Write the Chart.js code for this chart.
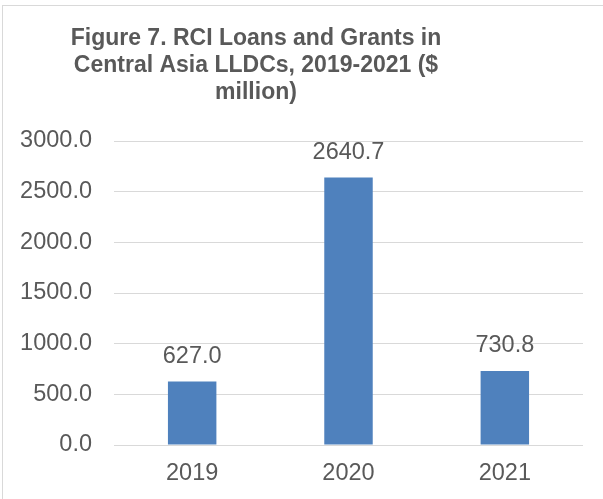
<!DOCTYPE html>
<html>
<head>
<meta charset="utf-8">
<script src="https://cdn.jsdelivr.net/npm/chart.js@4"></script>
<style>
  html, body { margin: 0; padding: 0; background: #fff; }
  #wrap { width: 603px; height: 499px; position: relative; }
</style>
</head>
<body>
<div id="wrap"><canvas id="myChart" width="603" height="499"></canvas></div>
<script>
var years = ['2019', '2020', '2021'];
var totals = [627.0, 2640.7, 730.8];
var yTicks = [0, 500, 1000, 1500, 2000, 2500, 3000];
var titleLines = ['Figure 7. RCI Loans and Grants in', 'Central Asia LLDCs, 2019-2021 ($', 'million)'];

var textColor = '#595959';
var font = 'Arial, "Liberation Sans", sans-serif';

// frame, title and value labels drawn straight onto the canvas
var extras = {
    id: 'extras',
    beforeDraw: function(chart) {
        var c = chart.ctx;
        c.save();
        c.strokeStyle = '#d9d9d9';
        c.lineWidth = 1;
        c.strokeRect(2.5, 5.5, 700, 600);
        c.restore();
    },
    afterDatasetsDraw: function(chart) {
        var c = chart.ctx;
        c.save();
        c.fillStyle = textColor;
        c.textAlign = 'center';
        c.textBaseline = 'middle';
        c.font = 'bold 23px ' + font;
        titleLines.forEach(function(line, i) {
            c.fillText(line, 256, 39 + i * 27);
        });
        c.font = '23.5px ' + font;
        var meta = chart.getDatasetMeta(0);
        meta.data.forEach(function(bar, i) {
            c.fillText(totals[i].toFixed(1), bar.x, bar.y - 25);
        });
        c.restore();
    }
};

var ctx = document.getElementById('myChart').getContext('2d');
var myChart = new Chart(ctx, {
    type: 'bar',
    data: {
        labels: years,
        datasets: [{
            data: totals,
            backgroundColor: '#4f81bd',
            borderWidth: 0,
            barPercentage: 0.31,
            categoryPercentage: 1
        }]
    },
    options: {
        responsive: false,
        animation: false,
        layout: { padding: { top: 141, right: 20, bottom: 0, left: 0 } },
        plugins: {
            legend: { display: false },
            tooltip: { enabled: false }
        },
        scales: {
            x: {
                grid: { display: false },
                border: { display: false },
                ticks: { color: textColor, font: { family: font, size: 23.5 }, padding: 6 },
                afterFit: function(scale) { scale.height = 54; }
            },
            y: {
                min: 0,
                max: 3000,
                afterBuildTicks: function(scale) {
                    scale.ticks = yTicks.map(function(v) { return { value: v }; });
                },
                grid: { color: '#d9d9d9', lineWidth: 1, drawTicks: false },
                border: { display: false },
                ticks: {
                    color: textColor,
                    font: { family: font, size: 23.5 },
                    padding: 22,
                    callback: function(v) { return Number(v).toFixed(1); }
                },
                afterFit: function(scale) { scale.width = 114; }
            }
        }
    },
    plugins: [extras]
});
</script>
</body>
</html>
